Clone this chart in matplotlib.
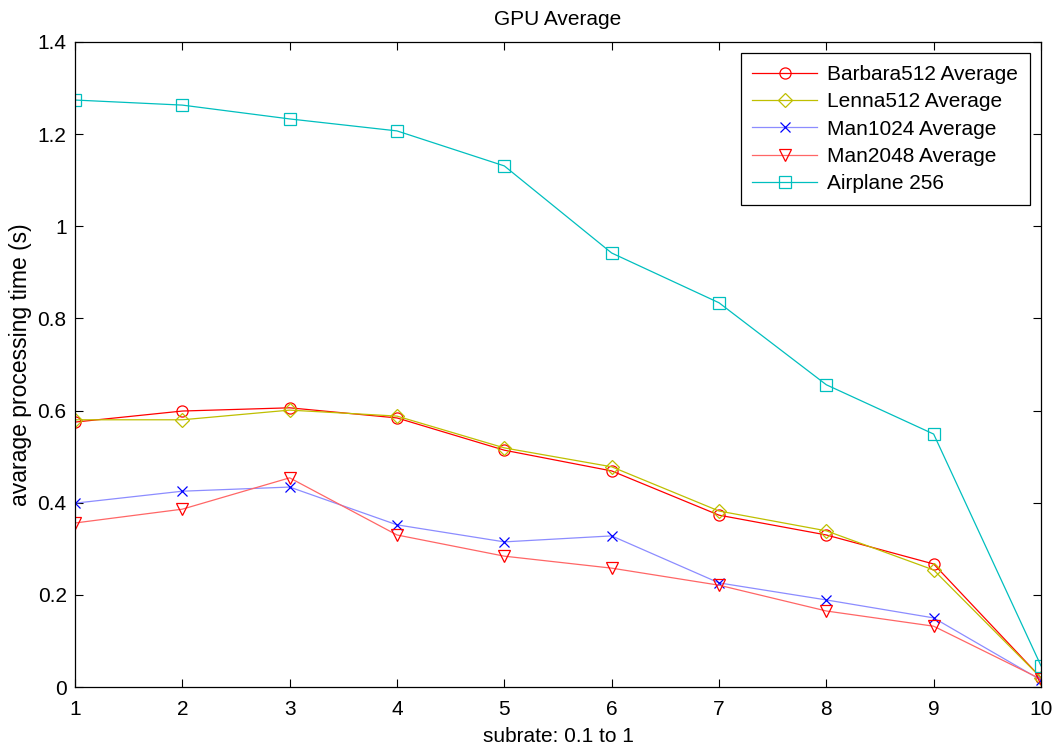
import matplotlib
matplotlib.use("Agg")
import matplotlib.pyplot as plt

plt.rcParams['font.family'] = ['Liberation Sans', 'DejaVu Sans']

subrate = [1, 2, 3, 4, 5, 6, 7, 8, 9, 10]
barbara = [0.575, 0.599, 0.606, 0.584, 0.514, 0.469, 0.373, 0.330, 0.267, 0.020]
lenna = [0.580, 0.580, 0.601, 0.588, 0.519, 0.478, 0.382, 0.339, 0.254, 0.020]
man1024 = [0.399, 0.425, 0.434, 0.352, 0.315, 0.328, 0.226, 0.189, 0.150, 0.015]
man2048 = [0.356, 0.386, 0.454, 0.330, 0.284, 0.258, 0.221, 0.165, 0.132, 0.017]
airplane = [1.274, 1.263, 1.233, 1.207, 1.131, 0.942, 0.834, 0.656, 0.549, 0.046]

# name, values, marker, line colour, marker colour, marker size
series = [
    ("Barbara512 Average", barbara, 'o', (1, 0, 0), (1, 0, 0), 8),
    ("Lenna512 Average", lenna, 'D', (0.75, 0.75, 0), (0.75, 0.75, 0), 7),
    ("Man1024 Average", man1024, 'x', (0.55, 0.55, 1), (0, 0, 1), 7),
    ("Man2048 Average", man2048, 'v', (1, 0.4, 0.4), (1, 0, 0), 9),
    ("Airplane 256", airplane, 's', (0, 0.75, 0.75), (0, 0.75, 0.75), 8),
]

FS = 15

fig = plt.figure(figsize=(10.56, 7.47), dpi=100)
ax = fig.add_axes([0.071, 0.0803, 0.9148, 0.8635])

for name, vals, mk, lc, mc, ms in series:
    ax.plot(subrate, vals, color=lc, linewidth=0.9, marker=mk,
            markersize=ms, markerfacecolor='none', markeredgecolor=mc,
            markeredgewidth=0.9, label=name)

ax.set_xlim(1, 10)
ax.set_ylim(0, 1.4)
ax.set_xticks(subrate)
yt = [0, 0.2, 0.4, 0.6, 0.8, 1.0, 1.2, 1.4]
ax.set_yticks(yt)
ax.set_yticklabels(["0", "0.2", "0.4", "0.6", "0.8", "1", "1.2", "1.4"])
ax.tick_params(direction='in', top=True, right=True, length=6, width=0.8,
               labelsize=FS)
ax.tick_params(axis='x', pad=9)
ax.tick_params(axis='y', pad=6)
for sp in ax.spines.values():
    sp.set_linewidth(0.9)

ax.set_title("GPU Average", fontsize=FS, pad=12)
ax.set_xlabel("subrate: 0.1 to 1", fontsize=FS, labelpad=6)
ax.set_ylabel("avarage processing time (s)", fontsize=16.5, labelpad=4)

leg = ax.legend(loc='upper right', fontsize=FS, handlelength=3.1,
                fancybox=False, edgecolor='black', framealpha=1,
                borderaxespad=0.55, labelspacing=0.4, handletextpad=0.5,
                borderpad=0.55)
leg.get_frame().set_linewidth(0.9)

fig.savefig("out.png", dpi=100)
